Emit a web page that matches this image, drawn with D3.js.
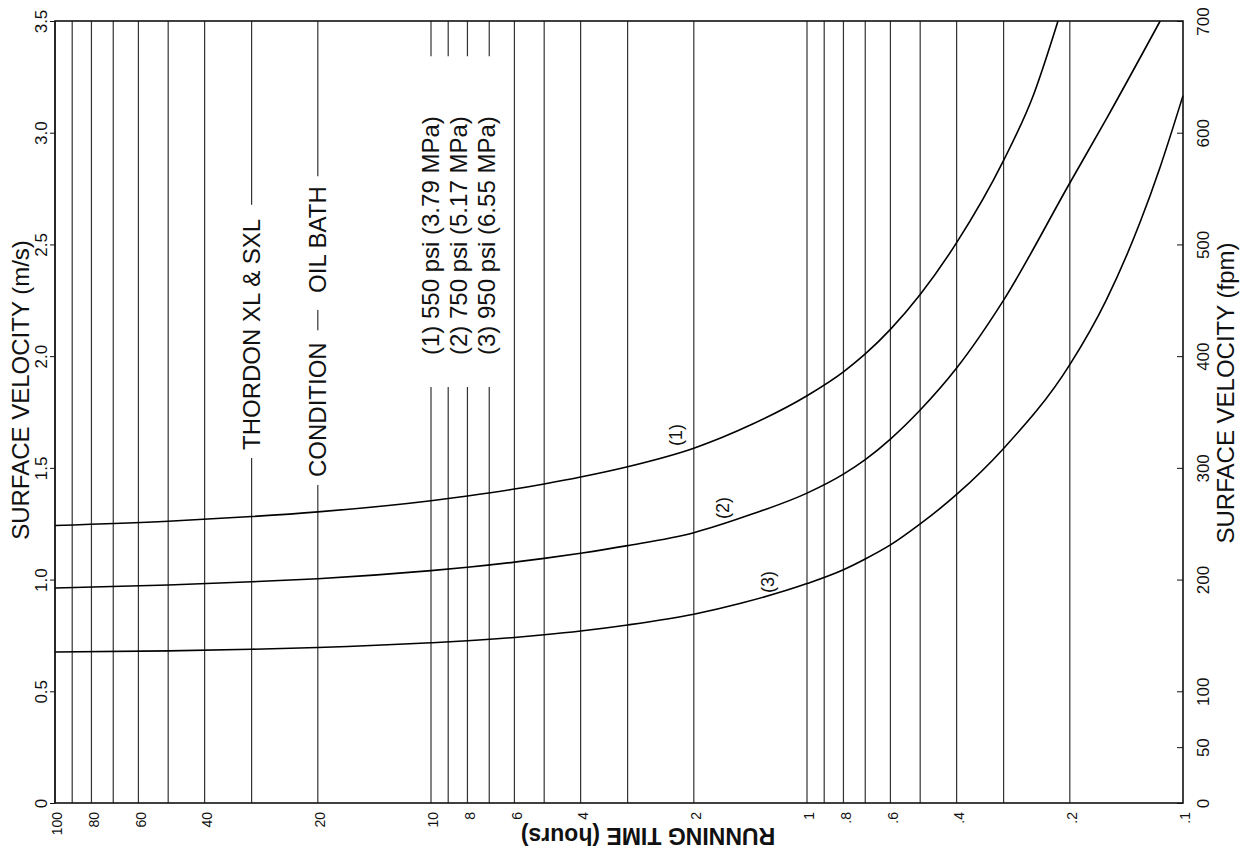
<!DOCTYPE html>
<html>
<head>
<meta charset="utf-8">
<script src="https://cdn.jsdelivr.net/npm/d3@7"></script>
<style>
  body { margin: 0; background: #fff; }
  text { font-family: "Liberation Sans", Arial, Helvetica, sans-serif; fill: #111; }
</style>
</head>
<body>
<svg id="chart"></svg>
<script>
// running time grid lines and labels (hours, log scale, reversed)
const gridHours = [100, 90, 80, 70, 60, 50, 40, 30, 20, 10, 9, 8, 7, 6, 5, 4, 3, 2, 1, .9, .8, .7, .6, .5, .4, .3, .2];
const hourLabels = [100, 80, 60, 40, 20, 10, 8, 6, 4, 2, 1, .8, .6, .4, .2, .1];
const msTicks = [0, 0.5, 1.0, 1.5, 2.0, 2.5, 3.0, 3.5];
const fpmTicks = [0, 50, 100, 200, 300, 400, 500, 600, 700];

// curve (1) 550 psi
const hours1 = [100, 50, 30, 20, 10, 8, 6, 5, 4, 3, 2, 1.4, 1, .8, .7, .6, .5, .4, .3, .25, .215];
const vel1 = [1.242, 1.261, 1.282, 1.303, 1.353, 1.374, 1.405, 1.428, 1.459, 1.505, 1.588, 1.695, 1.823, 1.930, 2.010, 2.120, 2.276, 2.508, 2.876, 3.168, 3.5];
// curve (2) 750 psi
const hours2 = [100, 50, 30, 20, 10, 8, 6, 5, 4, 3, 2, 1.4, 1, .8, .7, .6, .5, .4, .3, .2, .16, .115];
const vel2 = [0.962, 0.976, 0.990, 1.004, 1.040, 1.055, 1.078, 1.095, 1.118, 1.152, 1.210, 1.293, 1.387, 1.472, 1.537, 1.629, 1.759, 1.947, 2.251, 2.775, 3.061, 3.5];
// curve (3) 950 psi
const hours3 = [100, 50, 30, 20, 10, 8, 6, 5, 4, 3, 2, 1.5, 1, .8, .7, .6, .5, .4, .3, .2, .16, .13, .115, .1];
const vel3 = [0.676, 0.681, 0.688, 0.696, 0.717, 0.726, 0.741, 0.753, 0.770, 0.797, 0.845, 0.894, 0.982, 1.044, 1.092, 1.155, 1.249, 1.381, 1.587, 1.962, 2.251, 2.600, 2.847, 3.166];

const curveNames = ["(1)", "(2)", "(3)"];
const legendLines = ["(1) 550 psi (3.79 MPa)", "(2) 750 psi (5.17 MPa)", "(3) 950 psi (6.55 MPa)"];

const width = 1241, height = 856;
const plotLeft = 55, plotRight = 1183, plotTop = 21, plotBottom = 803;

const svg = d3.select('#chart').attr('width', width).attr('height', height);

const x = d3.scaleLog().domain([100, 0.1]).range([plotLeft, plotRight]);
const y = d3.scaleLinear().domain([0, 3.5]).range([plotBottom, plotTop]);
const yR = d3.scaleLinear().domain([0, 700]).range([plotBottom, plotTop]);

// grid lines
svg.append('g').selectAll('line')
  .data(gridHours)
  .enter()
  .append('line')
  .attr('x1', d => x(d)).attr('x2', d => x(d))
  .attr('y1', plotTop).attr('y2', plotBottom)
  .attr('stroke', '#333')
  .style('stroke-width', '1.2px');

const bgLayer = svg.append('g');
const textLayer = svg.append('g');

// rotated text, reading bottom to top; returns its screen box
function upText(px, py, str, size, anchor) {
  const t = textLayer.append('text')
    .attr('transform', `translate(${px},${py}) rotate(-90)`)
    .attr('dy', '0.35em')
    .attr('text-anchor', anchor || 'start')
    .style('font-size', size + 'px')
    .text(str);
  const b = t.node().getBBox();
  return { x0: px + b.y, x1: px + b.y + b.height, y0: py - b.x - b.width, y1: py - b.x };
}

// white gap in the grid behind a text
function gap(box, padTop, padBottom) {
  bgLayer.append('rect')
    .attr('x', box.x0 - 3).attr('y', box.y0 - padTop)
    .attr('width', box.x1 - box.x0 + 6)
    .attr('height', box.y1 - box.y0 + padTop + padBottom)
    .attr('fill', '#fff');
}

gap(upText(x(30), y(1.58), "THORDON XL & SXL", 24), 14, 8);
gap(upText(x(20), y(1.459), "CONDITION", 24), 12, 8);
gap(upText(x(20), y(2.283), "OIL BATH", 24), 10, 17);

const legendBoxes = legendLines.map((s, i) => upText(x(10) + i * 28, y(2.005), s, 24));
gap({
  x0: d3.min(legendBoxes, b => b.x0), x1: d3.max(legendBoxes, b => b.x1),
  y0: d3.min(legendBoxes, b => b.y0), y1: d3.max(legendBoxes, b => b.y1)
}, 60, 32);

// curve labels
upText(x(2.24), y(1.647), curveNames[0], 18, 'middle');
upText(x(1.68), y(1.320), curveNames[1], 18, 'middle');
upText(x(1.27), y(0.989), curveNames[2], 18, 'middle');

// curves
const line = d3.line()
  .x(d => x(d.h))
  .y(d => y(d.v))
  .curve(d3.curveMonotoneX);

[[hours1, vel1], [hours2, vel2], [hours3, vel3]].forEach(([hs, vs]) => {
  svg.append('path')
    .datum(hs.map((h, i) => ({ h: h, v: vs[i] })))
    .attr('d', line)
    .attr('fill', 'none')
    .attr('stroke', '#000')
    .style('stroke-width', '1.6px');
});

// frame
svg.append('rect')
  .attr('x', plotLeft).attr('y', plotTop)
  .attr('width', plotRight - plotLeft).attr('height', plotBottom - plotTop)
  .attr('fill', 'none')
  .attr('stroke', '#111')
  .style('stroke-width', '1.6px');

// left axis (m/s)
const axL = svg.append('g')
  .attr('transform', `translate(${plotLeft},0)`)
  .call(d3.axisLeft(y).tickValues(msTicks).tickSize(5).tickFormat(d => d === 0 ? "0" : d.toFixed(1)));
axL.select('.domain').remove();
axL.selectAll('.tick line').attr('stroke', '#111');
axL.selectAll('.tick text')
  .attr('x', 0).attr('y', -14).attr('dy', '0.35em')
  .attr('transform', 'rotate(-90)')
  .attr('text-anchor', 'middle')
  .style('font-family', '"Liberation Sans", Arial, sans-serif')
  .style('font-size', '17px');

// right axis (fpm)
const axR = svg.append('g')
  .attr('transform', `translate(${plotRight},0)`)
  .call(d3.axisRight(yR).tickValues(fpmTicks).tickSize(-6));
axR.select('.domain').remove();
axR.selectAll('.tick line').attr('stroke', '#111');
axR.selectAll('.tick text')
  .attr('x', 0).attr('y', 20).attr('dy', '0.35em')
  .attr('transform', 'rotate(-90)')
  .attr('text-anchor', 'middle')
  .style('font-family', '"Liberation Sans", Arial, sans-serif')
  .style('font-size', '17px');

// bottom axis (hours)
const axB = svg.append('g')
  .attr('transform', `translate(0,${plotBottom})`)
  .call(d3.axisBottom(x).tickValues(hourLabels).tickSize(0)
    .tickFormat(d => d >= 1 ? String(d) : String(d).replace(/^0/, "")));
axB.select('.domain').remove();
axB.selectAll('.tick text')
  .attr('x', -9).attr('y', 2).attr('dy', '0.35em')
  .attr('transform', 'rotate(-90)')
  .attr('text-anchor', 'end')
  .style('font-family', '"Liberation Sans", Arial, sans-serif')
  .style('font-size', '14px');

// axis titles
svg.append('text')
  .attr('transform', 'translate(21,390) rotate(-90)')
  .attr('dy', '0.35em')
  .attr('text-anchor', 'middle')
  .style('font-size', '24px')
  .text("SURFACE VELOCITY (m/s)");

svg.append('text')
  .attr('transform', 'translate(1226,393) rotate(-90)')
  .attr('dy', '0.35em')
  .attr('text-anchor', 'middle')
  .style('font-size', '24px')
  .text("SURFACE VELOCITY (fpm)");

svg.append('text')
  .attr('transform', 'translate(648,836) rotate(180)')
  .attr('dy', '0.35em')
  .attr('text-anchor', 'middle')
  .style('font-size', '23px')
  .style('font-weight', 'bold')
  .text("RUNNING TIME (hours)");
</script>
</body>
</html>
